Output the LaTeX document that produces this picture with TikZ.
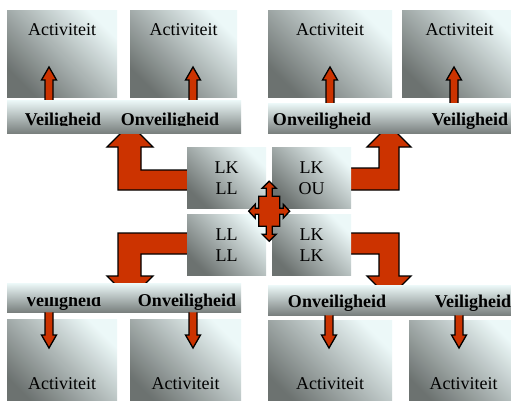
\documentclass[tikz,border=0pt]{standalone}
\usepackage{fontspec}
\setmainfont{Liberation Serif}
\usetikzlibrary{calc}

\pgfdeclarelayer{achter}
\pgfsetlayers{achter,main}

\definecolor{licht}{RGB}{236,248,248}
\definecolor{donker}{RGB}{108,114,112}
\definecolor{oranje}{RGB}{204,51,0}

% pijl van de balk naar de activiteit: #1 punt, #2 kant van de balk, #3 1 = omhoog, -1 = omlaag
\newcommand{\pijl}[3]{%
  \coordinate (voet) at (#1 |- #2);
  \filldraw[pijlstijl] ($(voet)+(-4,0)$) -- ($(#1)+(-4,#3*13)$) -- ($(#1)+(-7.5,#3*13)$)
    -- (#1) -- ($(#1)+(7.5,#3*13)$) -- ($(#1)+(4,#3*13)$) -- ($(voet)+(4,0)$);
}

\begin{document}
\begin{tikzpicture}[x=1pt, y=-1pt, font=\fontsize{18}{21}\selectfont]
    \tikzstyle{vlak}=[rectangle, draw=none, inner sep=0pt, anchor=north west, top color=licht, bottom color=donker, shading angle=-45]
    \tikzstyle{act}=[vlak, minimum height=87]
    \tikzstyle{balk}=[vlak, minimum height=30, shading angle=-40, bottom color=donker!90!licht]
    \tikzstyle{lk}=[vlak, minimum width=79, minimum height=61, align=center]
    \tikzstyle{tekst}=[anchor=base, inner sep=0pt]
    \tikzstyle{kop}=[tekst, font=\fontsize{18}{21}\selectfont\bfseries]
    \tikzstyle{pijlstijl}=[fill=oranje, draw=black, line width=1.3pt, line join=miter]

    \useasboundingbox (0,0) rectangle (511,401);
    \clip (0,0) rectangle (511,401);

    % bovenste rij
    \node[act, minimum width=110] (act1) at (7,10) {};
    \node[act, minimum width=107] (act2) at (130,10) {};
    \node[act, minimum width=124] (act3) at (268,10) {};
    \node[act, minimum width=115] (act4) at (402,10) {};
    \node[balk, minimum width=234, minimum height=33] (balk1) at (7,100) {};
    \node[balk, minimum width=250] (balk2) at (268,103) {};

    % onderste rij
    \node[balk, minimum width=234, minimum height=29] (balk3) at (7,283) {};
    \node[balk, minimum width=250] (balk4) at (268,285) {};
    \node[act, minimum width=110] (act5) at (7,319) {};
    \node[act, minimum width=111] (act6) at (130,319) {};
    \node[act, minimum width=124] (act7) at (268,320) {};
    \node[act, minimum width=109] (act8) at (409,320) {};

    \foreach \n/\d in {1/26,2/26,3/26,4/26,5/70,6/70,7/69,8/69}
        \node[tekst] (tact\n) at ($(act\n.north)+(0,\d)$) {Activiteit};

    % midden
    \node[lk] (lkll) at (187,147) {LK\\LL};
    \node[lk] (lkou) at (272,147) {LK\\OU};
    \node[lk] (llll) at (187,214) {LL\\LL};
    \node[lk] (lklk) at (272,214) {LK\\LK};

    % teksten in de balken
    \begin{scope}
        \clip (0,0) rectangle (260,126);
        \node[kop] (veil1) at (63,126) {Veiligheid};
        \node[kop] (onv1) at (170,126) {Onveiligheid};
    \end{scope}
    \node[kop] (onv2) at (322,126) {Onveiligheid};
    \node[kop] (veil2) at (470,126) {Veiligheid};
    \begin{scope}
        \clip (0,297) rectangle (120,320);
        \node[kop] (veil3) at (63,306) {Veiligheid};
    \end{scope}
    \node[kop] (onv3) at (187,306) {Onveiligheid};
    \node[kop] (onv4) at (337,307) {Onveiligheid};
    \node[kop] (veil4) at (473,307) {Veiligheid};

    % kleine pijlen
    \coordinate (p1) at (49,67);
    \coordinate (p2) at (193,67);
    \coordinate (p3) at (330,67);
    \coordinate (p4) at (454,67);
    \coordinate (p5) at (49,348);
    \coordinate (p6) at (193,348);
    \coordinate (p7) at (329,348);
    \coordinate (p8) at (459,348);
    \pijl{p1}{balk1.north}{1}
    \pijl{p2}{balk1.north}{1}
    \pijl{p3}{balk2.north}{1}
    \pijl{p4}{balk2.north}{1}
    \pijl{p5}{balk3.south}{-1}
    \pijl{p6}{balk3.south}{-1}
    \pijl{p7}{balk4.south}{-1}
    \pijl{p8}{balk4.south}{-1}

    % kruis in het midden
    \coordinate (midden) at ($(lkll.south east)!0.5!(lklk.north west)$);
    \begin{scope}[shift={(midden)}]
        \filldraw[pijlstijl] (0,-30) -- (7,-23) -- (3,-23) -- (3,-15) -- (10.5,-15) -- (10.5,-3)
            -- (14,-3) -- (14,-7) -- (20.5,0) -- (14,7) -- (14,3) -- (10.5,3) -- (10.5,15)
            -- (3,15) -- (3,23) -- (7,23) -- (0,30) -- (-7,23) -- (-3,23) -- (-3,15)
            -- (-10.5,15) -- (-10.5,3) -- (-14,3) -- (-14,7) -- (-20.5,0) -- (-14,-7)
            -- (-14,-3) -- (-10.5,-3) -- (-10.5,-15) -- (-3,-15) -- (-3,-23) -- (-7,-23) -- cycle;
    \end{scope}

    % grote hoekpijlen, onder de vlakken
    \begin{pgfonlayer}{achter}
        \fill[white] (0,0) rectangle (511,401);
        \filldraw[pijlstijl] (195,170) -- (141,170) -- (141,147) -- (153,147) -- (130,124)
            -- (107,147) -- (118,147) -- (118,190) -- (195,190) -- cycle;
        \filldraw[pijlstijl] (345,168) -- (379,168) -- (379,147) -- (367,147) -- (389,125)
            -- (411,147) -- (399,147) -- (399,190) -- (345,190) -- cycle;
        \filldraw[pijlstijl] (195,254) -- (141,254) -- (141,276) -- (153,276) -- (130,299)
            -- (107,276) -- (118,276) -- (118,233) -- (195,233) -- cycle;
        \filldraw[pijlstijl] (345,254) -- (379,254) -- (379,276) -- (367,276) -- (389,298)
            -- (411,276) -- (399,276) -- (399,233) -- (345,233) -- cycle;
    \end{pgfonlayer}
\end{tikzpicture}
\end{document}
